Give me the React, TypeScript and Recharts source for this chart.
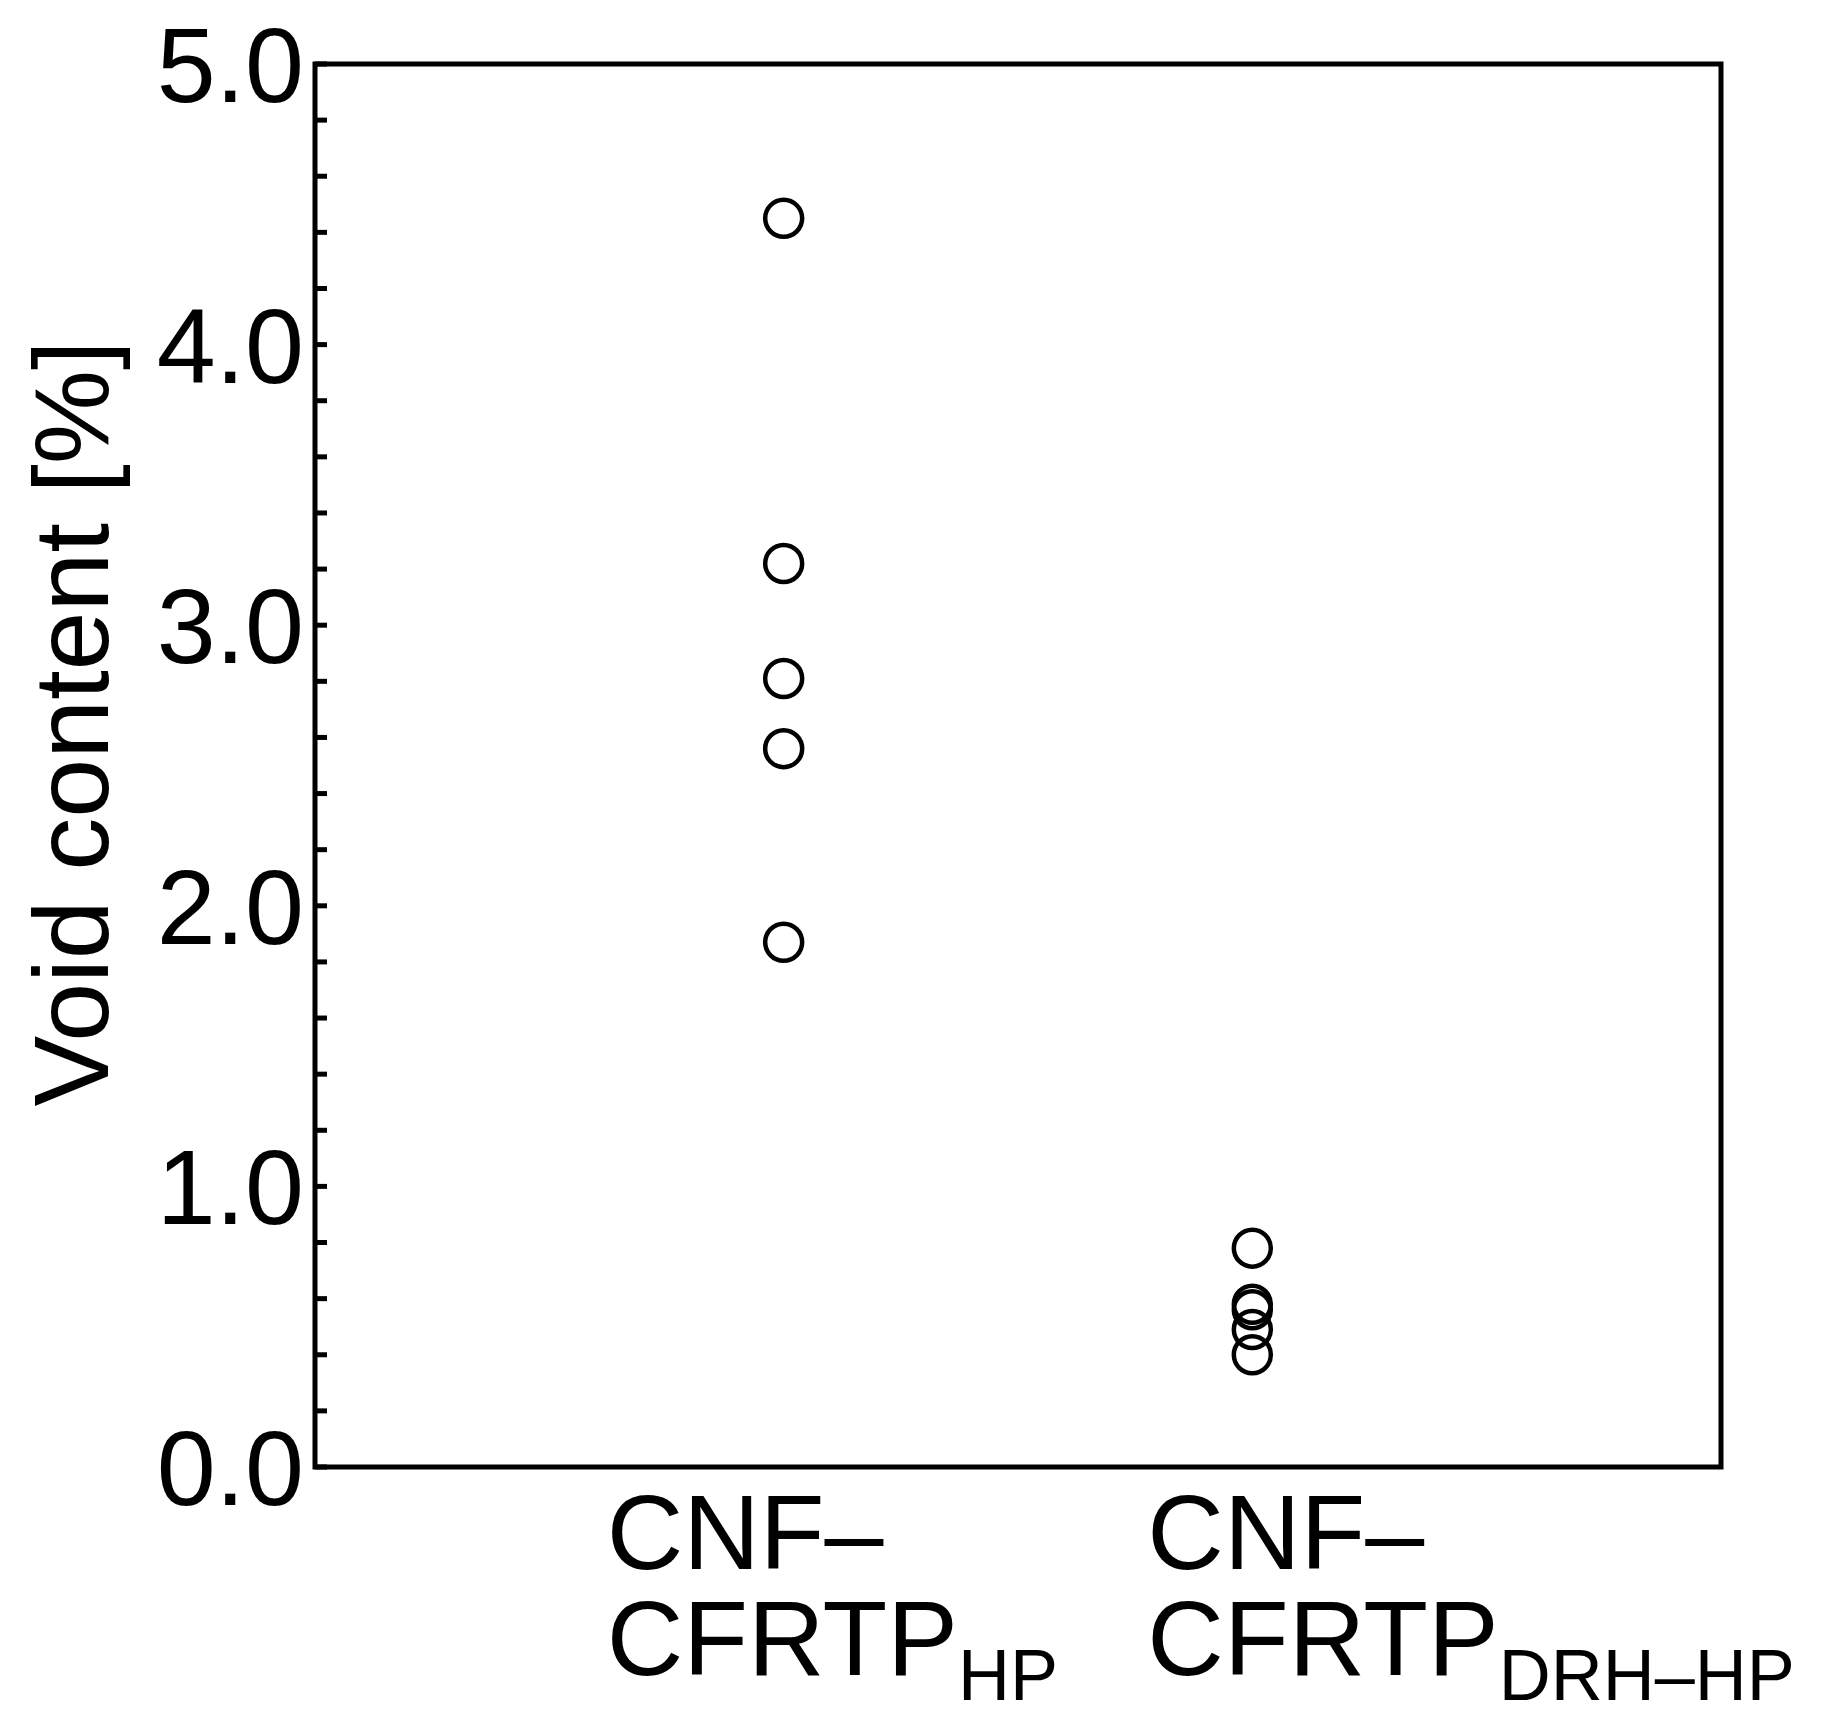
import React from 'react';
import { ScatterChart, Scatter, XAxis, YAxis, ReferenceArea } from 'recharts';

// categories (x positions on a 0..3 numeric axis) and their two-line labels
const categoryX = [1, 2];
const labelLine1 = ['CNF–', 'CNF–'];
const labelLine2 = ['CFRTP', 'CFRTP'];
const labelSub = ['HP', 'DRH–HP'];

// void content [%] measured for each sample
const hpValues = [4.45, 3.22, 2.81, 2.56, 1.87];
const drhValues = [0.78, 0.58, 0.56, 0.49, 0.4];

const yTicks = [0, 0.2, 0.4, 0.6, 0.8, 1, 1.2, 1.4, 1.6, 1.8, 2, 2.2, 2.4, 2.6, 2.8, 3, 3.2, 3.4, 3.6, 3.8, 4, 4.2, 4.4, 4.6, 4.8, 5];
const yMajor = [0, 1, 2, 3, 4, 5];

const hpData = hpValues.map((v) => ({ x: categoryX[0], y: v }));
const drhData = drhValues.map((v) => ({ x: categoryX[1], y: v }));

const FONT = '"Liberation Sans", Arial, sans-serif';
const BIG = 106;
const SMALL = 72;
const LINE_W = 5;
// horizontal shift of each label's left edge from its tick
const labelShift = [-177, -105];

const YTick = (props: any) => {
  const { x, y, payload } = props;
  const v = payload.value;
  const major = yMajor.some((m) => Math.abs(m - v) < 1e-6);
  return (
    <g>
      <line x1={x} x2={x + 12} y1={y} y2={y} stroke="#000" strokeWidth={LINE_W} />
      {major && (
        <text x={x - 11} y={y + BIG * 0.358} textAnchor="end" fontFamily={FONT} fontSize={BIG} fill="#000">
          {v.toFixed(1)}
        </text>
      )}
    </g>
  );
};

const XTick = (props: any) => {
  const { x, y, payload } = props;
  const i = categoryX.indexOf(payload.value);
  if (i < 0) return null;
  const left = x + labelShift[i];
  return (
    <g>
      <text x={left} y={y + 102} fontFamily={FONT} fontSize={BIG} fill="#000">
        {labelLine1[i]}
      </text>
      <text x={left} y={y + 208} fontFamily={FONT} fontSize={BIG} fill="#000">
        {labelLine2[i]}
        <tspan fontSize={SMALL} dy={25}>{labelSub[i]}</tspan>
      </text>
    </g>
  );
};

const YLabel = (props: any) => {
  const { viewBox } = props;
  const cx = viewBox.x + 108;
  const cy = viewBox.y + viewBox.height / 2 - 42;
  return (
    <text
      x={cx}
      y={cy}
      transform={`rotate(-90 ${cx} ${cy})`}
      textAnchor="middle"
      fontFamily={FONT}
      fontSize={BIG}
      fill="#000"
    >
      Void content [%]
    </text>
  );
};

const ring = (p: any) => (
  <circle cx={p.cx} cy={p.cy} r={18.5} fill="none" stroke="#000" strokeWidth={4.5} />
);

export default function App() {
  return (
    <div style={{ position: 'absolute', left: 0, top: 0, background: '#fff' }}>
      <ScatterChart width={1821} height={1732} margin={{ top: 64, right: 100, bottom: 0, left: 0 }}>
        <XAxis
          type="number"
          dataKey="x"
          domain={[0, 3]}
          ticks={categoryX}
          interval={0}
          height={265}
          axisLine={false}
          tickLine={false}
          tickSize={0}
          tickMargin={0}
          tick={<XTick />}
        />
        <YAxis
          type="number"
          dataKey="y"
          domain={[0, 5]}
          ticks={yTicks}
          interval={0}
          width={315}
          axisLine={false}
          tickLine={false}
          tickSize={0}
          tickMargin={0}
          tick={<YTick />}
          label={<YLabel />}
        />
        <ReferenceArea
          x1={0}
          x2={3}
          y1={0}
          y2={5}
          fill="none"
          fillOpacity={0}
          stroke="#000"
          strokeWidth={LINE_W}
          ifOverflow="visible"
        />
        <Scatter data={hpData} shape={ring} isAnimationActive={false} />
        <Scatter data={drhData} shape={ring} isAnimationActive={false} />
      </ScatterChart>
    </div>
  );
}
